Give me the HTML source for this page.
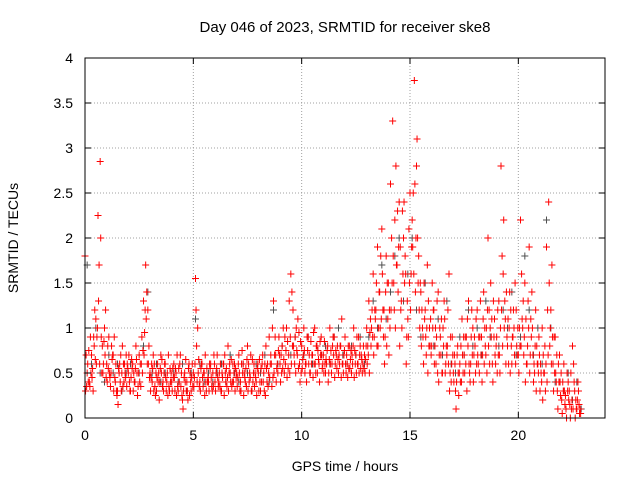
<!DOCTYPE html>
<html><head><meta charset="utf-8"><style>
body{margin:0;background:#fff}
svg{display:block;font-family:"Liberation Sans",sans-serif}
</style></head><body>
<svg id="chart" width="640" height="480" viewBox="0 0 640 480">
<rect width="640" height="480" fill="#fff"/>
<g id="grid"></g>
<g id="gray"></g>
<g id="red"></g>
<rect x="85" y="58" width="520" height="360" fill="none" stroke="#000" stroke-width="1"/>
<g id="ticks"></g>
<text x="345" y="32" text-anchor="middle" font-size="15">Day 046 of 2023, SRMTID for receiver ske8</text>
<text x="345" y="471" text-anchor="middle" font-size="14">GPS time / hours</text>
<text x="18" y="238" text-anchor="middle" font-size="14" transform="rotate(-90 18 238)">SRMTID / TECUs</text>
</svg>
<script>
const xTicks=[0,5,10,15,20];
const yTicks=[0,0.5,1,1.5,2,2.5,3,3.5,4];
const yTickLabels=["0","0.5","1","1.5","2","2.5","3","3.5","4"];
const redStep=0.1;
const redA=[1.8,0.5,0.4,0.7,0.9,1.1,2.25,2.85,0.8,1.0,
0.6,0.9,0.5,0.7,0.4,0.3,0.6,0.5,0.4,0.7,
0.5,0.3,0.6,0.4,0.5,0.7,0.6,1.3,1.7,1.2,
0.5,0.4,0.6,0.3,0.5,0.7,0.4,0.6,0.5,0.3,
0.4,0.6,0.5,0.3,0.7,0.2,0.5,0.4,0.6,0.3,
0.5,1.55,1.0,0.4,0.6,0.5,0.3,0.4,0.6,0.5,
0.4,0.7,0.5,0.3,0.6,0.4,0.8,0.5,0.4,0.6,
0.5,0.7,0.3,0.6,0.4,0.8,0.5,0.3,0.6,0.4,
0.5,0.3,0.7,0.6,0.4,0.9,0.6,1.3,0.7,0.5,
0.6,0.8,0.5,1.0,0.7,1.6,1.2,0.9,0.7,0.6,
0.8,1.0,0.6,0.9,0.5,0.7,1.0,0.8,0.6,0.9,
0.7,0.5,0.8,1.0,0.6,0.9,0.7,0.5,0.8,0.6,
0.9,0.6,0.8,0.5,1.0,0.7,0.6,0.8,0.5,0.7,
1.0,1.3,0.8,1.6,1.1,1.9,1.4,2.1,1.2,1.8,
1.5,2.6,3.3,2.2,1.7,2.4,1.3,2.0,1.6,1.1,
2.5,2.2,3.75,2.8,1.8,1.4,0.9,1.2,1.7,1.0,
0.8,1.2,0.6,1.4,0.9,0.5,1.1,0.7,1.6,0.4,
0.5,0.3,0.8,0.6,1.1,0.7,0.9,1.3,0.6,1.0,
0.8,1.2,0.5,0.9,1.4,0.7,2.0,1.0,0.6,1.1,
0.9,1.3,2.8,1.6,1.1,0.8,1.4,0.6,1.0,1.2,
0.7,2.2,1.0,1.5,0.6,1.9,0.9,0.4,1.2,0.6,
0.3,1.0,0.5,1.9,2.4,1.2,0.6,0.9,0.3,0.7,
0.2,0.6,0.1,0.4,0.0,0.8,0.3,0.1,0.15];
const redB=[0.3,0.6,0.35,0.45,0.8,0.6,1.3,2.0,0.5,0.7,
0.4,0.5,0.8,0.3,0.6,0.15,0.4,0.8,0.6,0.35,
0.7,0.45,0.3,0.55,0.25,0.4,0.9,0.7,1.1,0.6,
0.3,0.55,0.35,0.45,0.2,0.5,0.3,0.45,0.25,0.55,
0.3,0.45,0.25,0.55,0.35,0.1,0.4,0.3,0.25,0.45,
0.35,1.2,0.5,0.3,0.45,0.25,0.55,0.3,0.45,0.35,
0.3,0.45,0.35,0.5,0.25,0.55,0.3,0.4,0.6,0.3,
0.35,0.5,0.6,0.25,0.55,0.3,0.45,0.65,0.35,0.25,
0.3,0.55,0.4,0.25,0.6,0.45,0.35,0.5,0.4,0.75,
0.4,0.55,0.9,0.45,1.3,0.6,0.8,0.5,1.1,0.4,
0.55,0.75,0.4,0.6,0.85,0.45,0.6,0.5,0.4,0.7,
0.5,0.65,0.4,0.6,0.8,0.45,0.55,0.7,0.45,0.5,
0.6,0.45,0.55,0.7,0.45,0.5,0.9,0.55,0.6,0.5,
0.6,0.5,1.0,0.7,1.2,0.8,1.0,1.6,0.6,0.8,
0.7,1.2,1.8,1.0,2.3,0.8,1.0,2.4,0.6,0.9,
1.2,1.9,2.6,3.1,1.2,0.8,0.6,0.9,0.5,0.8,
1.5,0.6,0.9,0.4,0.7,1.0,0.5,0.8,0.3,0.6,
0.4,0.1,0.5,0.4,0.7,0.5,0.3,0.6,0.9,0.4,
0.5,0.7,0.9,0.4,0.6,1.0,0.8,1.5,0.4,0.7,
0.5,0.7,1.2,2.2,0.6,1.1,0.5,0.9,0.7,0.8,
0.5,0.8,1.3,0.4,0.8,0.5,1.4,0.6,0.3,0.5,
0.6,0.2,0.8,0.4,1.5,0.6,0.3,0.5,0.1,0.4,
0.05,0.3,0.0,0.2,0.5,0.1,0.0,0.2,0.05];
const redC=[0.7,0.4,0.9,0.55,1.2,0.9,1.7,0.9,0.6,1.2,
0.8,0.45,0.65,0.9,0.3,0.55,0.7,0.35,0.5,0.6,
0.4,0.65,0.5,0.8,0.35,0.6,0.5,0.95,1.4,0.8,
0.45,0.7,0.25,0.6,0.4,0.65,0.5,0.3,0.7,0.4,
0.55,0.3,0.7,0.4,0.5,0.3,0.65,0.2,0.5,0.6,
0.45,0.8,0.65,0.55,0.35,0.7,0.4,0.6,0.35,0.7,
0.5,0.35,0.6,0.45,0.7,0.35,0.5,0.65,0.4,0.55,
0.45,0.3,0.75,0.5,0.35,0.6,0.7,0.4,0.5,0.55,
0.65,0.4,0.5,0.8,0.35,0.6,1.0,0.7,0.55,0.9,
0.7,1.0,0.6,0.85,0.5,1.4,0.7,1.0,0.55,0.85,
0.65,0.5,0.9,0.7,0.6,0.95,0.5,0.75,0.85,0.55,
0.85,0.6,0.5,0.75,0.9,0.6,0.8,0.6,1.1,0.7,
0.5,0.8,0.65,0.6,0.75,0.9,0.5,0.7,0.8,0.65,
0.8,0.95,1.2,0.9,1.5,1.0,1.8,1.2,0.9,1.5,
1.2,2.0,1.5,2.8,1.4,1.9,2.3,1.5,0.9,2.1,
1.6,2.5,1.4,2.0,1.0,1.2,1.5,0.7,1.3,1.1,
1.0,0.8,1.3,0.7,1.1,0.8,0.6,1.2,0.5,0.9,
0.7,0.4,0.25,0.8,0.5,0.9,1.1,0.5,1.2,0.7,
1.1,0.6,1.3,0.7,1.0,0.5,1.2,0.9,1.3,0.6,
1.2,0.5,1.8,1.0,1.4,0.6,1.2,0.9,1.5,0.7,
1.0,1.6,0.7,1.1,1.3,0.7,1.0,0.5,0.8,0.9,
0.5,0.7,0.3,1.2,0.8,1.7,0.9,0.4,0.6,0.25,
0.4,0.15,0.5,0.3,0.1,0.6,0.2,0.4,0.1];
const redD=[0.35,0.75,0.5,0.3,0.65,1.0,0.6,0.5,0.85,0.45,
0.55,0.35,0.7,0.45,0.25,0.5,0.3,0.6,0.45,0.55,
0.3,0.55,0.4,0.65,0.5,0.35,0.75,1.2,0.6,0.45,
0.6,0.3,0.5,0.4,0.55,0.35,0.6,0.4,0.35,0.5,
0.45,0.55,0.35,0.6,0.25,0.45,0.3,0.55,0.4,0.35,
0.6,0.4,0.35,0.6,0.5,0.4,0.45,0.55,0.3,0.6,
0.55,0.4,0.3,0.6,0.5,0.45,0.6,0.35,0.5,0.45,
0.6,0.4,0.5,0.45,0.65,0.4,0.3,0.5,0.45,0.6,
0.4,0.6,0.3,0.55,0.5,0.7,0.45,0.9,0.6,0.7,
0.5,0.65,0.75,0.55,0.9,0.8,0.6,0.75,0.95,0.5,
0.7,0.6,0.75,0.5,0.7,0.6,0.8,0.65,0.7,0.6,
0.6,0.75,0.65,0.5,0.7,0.75,0.65,0.8,0.6,0.75,
0.7,0.55,0.75,0.8,0.6,0.6,0.7,0.65,0.55,0.8,
0.7,1.1,0.9,1.2,0.8,1.4,1.1,0.9,1.4,1.1,
1.0,1.5,1.2,1.7,1.9,1.2,1.6,1.8,1.3,1.5,
1.9,1.6,2.0,1.5,1.5,1.0,1.1,1.0,0.8,0.7,
1.2,1.0,0.5,1.0,0.5,1.3,0.8,0.6,0.9,0.7,
0.6,0.7,0.5,0.4,0.9,0.6,0.8,0.4,0.7,0.9,
0.6,0.9,0.7,1.1,0.8,1.2,0.6,1.1,0.9,0.8,
0.7,1.0,0.8,1.3,0.9,1.0,0.8,1.2,0.6,1.0,
0.8,1.1,0.9,0.6,1.0,1.1,0.7,0.8,0.6,0.7,
0.4,0.5,0.6,0.7,1.0,0.9,0.5,0.7,0.4,0.5,
0.3,0.25,0.3,0.15,0.2,0.4,0.1,0.3,0.05];
const grayStart=0.1, grayStep=0.2;
const gray=[1.7,0.6,1.0,0.5,0.4, 0.7,0.5,0.6,0.3,0.5, 0.6,0.4,0.5,0.8,1.4, 0.5,0.6,0.4,0.5,0.3,
0.5,0.4,0.6,0.3,0.5, 1.1,0.6,0.4,0.5,0.4, 0.5,0.6,0.4,0.7,0.5, 0.4,0.6,0.5,0.3,0.6,
0.5,0.7,0.4,1.2,0.6, 0.8,1.0,0.7,0.9,0.6, 0.7,0.9,0.6,0.8,0.7, 0.8,0.6,0.9,1.0,0.7,
0.6,0.8,0.7,0.9,0.6, 0.9,1.3,1.0,1.7,1.1, 1.4,1.8,2.0,1.3,1.6, 2.0,1.2,0.9,1.5,1.0,
0.8,1.1,0.7,1.3,0.6, 0.5,0.9,0.7,1.2,0.8, 1.0,0.7,1.3,0.9,1.1, 0.8,1.2,1.0,1.4,0.7,
0.9,1.8,1.2,0.7,1.0, 0.6,2.2,1.0,0.4,0.7, 0.3,0.5,0.2,0.4,0.1];

const NS="http://www.w3.org/2000/svg";
const X0=85,X1=605,Y0=418,Y1=58,XMAX=24,YMAX=4;
function sx(v){return X0+(X1-X0)*v/XMAX;}
function sy(v){return Y0-(Y0-Y1)*v/YMAX;}
function mk(tag,attrs,parent){const e=document.createElementNS(NS,tag);for(const k in attrs)e.setAttribute(k,attrs[k]);parent.appendChild(e);return e;}
const grid=document.getElementById('grid'),ticks=document.getElementById('ticks');
xTicks.forEach(t=>{
  const x=sx(t);
  if(t>0){const g=mk('line',{x1:x,y1:Y0,x2:x,y2:Y1,stroke:'#a0a0a0','stroke-dasharray':'1,2'},grid);
  
  }
  const a=mk('line',{x1:x,y1:Y0,x2:x,y2:Y0-6,stroke:'#000'},ticks);
  
  
  const b=mk('line',{x1:x,y1:Y1,x2:x,y2:Y1+6,stroke:'#000'},ticks);
  
  
  const l=mk('text',{x:x,y:Y0+22,'text-anchor':'middle','font-size':14},ticks);l.textContent=String(t);
  
  
});
yTicks.forEach((t,i)=>{
  const y=sy(t);
  if(t>0&&t<YMAX){const g=mk('line',{x1:X0,y1:y,x2:X1,y2:y,stroke:'#a0a0a0','stroke-dasharray':'1,2'},grid);
  
  }
  const a=mk('line',{x1:X0,y1:y,x2:X0+6,y2:y,stroke:'#000'},ticks);
  
  
  const b=mk('line',{x1:X1,y1:y,x2:X1-6,y2:y,stroke:'#000'},ticks);
  
  
  const l=mk('text',{x:X0-12,y:y+5,'text-anchor':'end','font-size':14},ticks);l.textContent=yTickLabels[i];
  
  
});
function plus(g,t,v,color,name){
  const x=sx(t),y=sy(v);
  const p=mk('path',{d:`M${x-3.5},${y}h7M${x},${y-3.5}v7`,stroke:color,'stroke-width':1,fill:'none'},g);
  
  
}
const gg=document.getElementById('gray');
gray.forEach((v,i)=>plus(gg,grayStart+i*grayStep,v,'#505050','gray-point'));
const rg=document.getElementById('red');
redA.forEach((v,i)=>plus(rg,i*redStep,v,'#ff0000','red-point'));
redB.forEach((v,i)=>plus(rg,i*redStep+0.025,v,'#ff0000','red-point'));
redC.forEach((v,i)=>plus(rg,i*redStep+0.05,v,'#ff0000','red-point'));
redD.forEach((v,i)=>plus(rg,i*redStep+0.075,v,'#ff0000','red-point'));
</script>
</body></html>
